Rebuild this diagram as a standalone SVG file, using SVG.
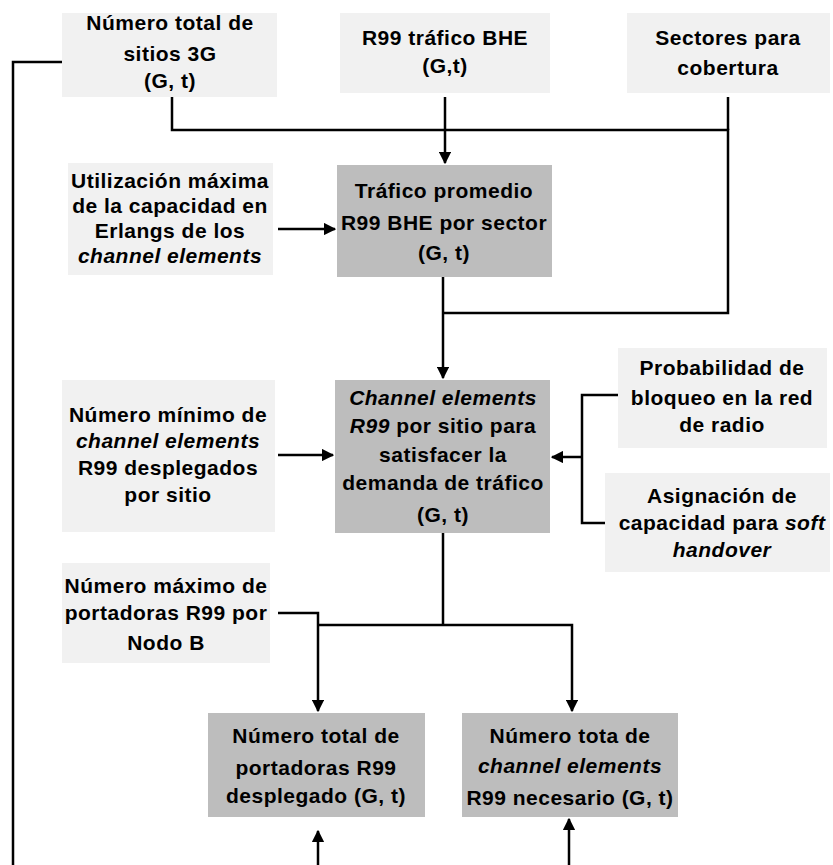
<svg xmlns="http://www.w3.org/2000/svg" width="833" height="865" viewBox="0 0 833 865">
<defs>
<style>
.in{fill:#f1f1f1;stroke:none}
.pr{fill:#bdbdbd;stroke:none}
text{font-family:"Liberation Sans",Arial,sans-serif;font-size:21px;font-weight:bold;letter-spacing:0.5px;fill:#000;text-anchor:middle}
.it{font-style:italic}
.ln{fill:none;stroke:#000;stroke-width:2.5}
</style>
<marker id="ah" viewBox="0 0 10 10" refX="9" refY="5" markerWidth="5" markerHeight="5" orient="auto-start-reverse" markerUnits="strokeWidth">
<path d="M0,0 L10,5 L0,10 z" fill="#000"/>
</marker>
</defs>
<rect width="833" height="865" fill="#fff"/>

<g id="connectors">
<path class="ln" d="M62,62 H13 V865"/>
<path class="ln" d="M172,97 V130 H728 V313 H443"/>
<path class="ln" d="M728,97 V130"/>
<path class="ln" d="M445,97 V163" marker-end="url(#ah)"/>
<path class="ln" d="M278,229 H335" marker-end="url(#ah)"/>
<path class="ln" d="M443,277 V378" marker-end="url(#ah)"/>
<path class="ln" d="M278,455 H333" marker-end="url(#ah)"/>
<path class="ln" d="M618,395 H582 V523 H618"/>
<path class="ln" d="M582,457 H552" marker-end="url(#ah)"/>
<path class="ln" d="M443,533 V625"/>
<path class="ln" d="M278,613 H318 V711" marker-end="url(#ah)"/>
<path class="ln" d="M318,625 H572 V711" marker-end="url(#ah)"/>
<path class="ln" d="M318,865 V831" marker-end="url(#ah)"/>
<path class="ln" d="M569,865 V819" marker-end="url(#ah)"/>
</g>

<g id="n_sitios">
<rect class="in" x="62" y="13" width="215" height="84"/>
<text x="170" y="30">Número total de</text>
<text x="170" y="61">sitios 3G</text>
<text x="170" y="88">(G, t)</text>
</g>

<g id="n_trafico_bhe">
<rect class="in" x="340" y="13" width="210" height="80"/>
<text x="445" y="45">R99 tráfico BHE</text>
<text x="445" y="73">(G,t)</text>
</g>

<g id="n_sectores">
<rect class="in" x="627" y="13" width="203" height="80"/>
<text x="728" y="45">Sectores para</text>
<text x="728" y="75">cobertura</text>
</g>

<g id="n_utilizacion">
<rect class="in" x="68" y="163" width="205" height="112"/>
<text x="170" y="188">Utilización máxima</text>
<text x="170" y="213">de la capacidad en</text>
<text x="170" y="238">Erlangs de los</text>
<text x="170" y="263" class="it">channel elements</text>
</g>

<g id="n_trafico_promedio">
<rect class="pr" x="337" y="165" width="215" height="112"/>
<text x="444" y="198">Tráfico promedio</text>
<text x="444" y="230">R99 BHE por sector</text>
<text x="444" y="260">(G, t)</text>
</g>

<g id="n_minimo">
<rect class="in" x="62" y="380" width="213" height="152"/>
<text x="168" y="422">Número mínimo de</text>
<text x="168" y="448" class="it">channel elements</text>
<text x="168" y="475">R99 desplegados</text>
<text x="168" y="502">por sitio</text>
</g>

<g id="n_channel">
<rect class="pr" x="335" y="380" width="215" height="153"/>
<text x="443" y="405" class="it">Channel elements</text>
<text x="443" y="433"><tspan class="it">R99</tspan> por sitio para</text>
<text x="443" y="462">satisfacer la</text>
<text x="443" y="490">demanda de tráfico</text>
<text x="443" y="522">(G, t)</text>
</g>

<g id="n_probabilidad">
<rect class="in" x="618" y="348" width="209" height="100"/>
<text x="722" y="375">Probabilidad de</text>
<text x="722" y="405">bloqueo en la red</text>
<text x="722" y="432">de radio</text>
</g>

<g id="n_asignacion">
<rect class="in" x="605" y="473" width="225" height="99"/>
<text x="722" y="503">Asignación de</text>
<text x="722" y="530">capacidad para <tspan class="it">soft</tspan></text>
<text x="722" y="557" class="it">handover</text>
</g>

<g id="n_maximo">
<rect class="in" x="62" y="563" width="208" height="100"/>
<text x="166" y="593">Número máximo de</text>
<text x="166" y="620">portadoras R99 por</text>
<text x="166" y="650">Nodo B</text>
</g>

<g id="n_portadoras">
<rect class="pr" x="208" y="713" width="217" height="104"/>
<text x="316" y="743">Número total de</text>
<text x="316" y="775">portadoras R99</text>
<text x="316" y="803">desplegado (G, t)</text>
</g>

<g id="n_ce_total">
<rect class="pr" x="462" y="713" width="216" height="104"/>
<text x="570" y="743">Número tota de</text>
<text x="570" y="773" class="it">channel elements</text>
<text x="570" y="805">R99 necesario (G, t)</text>
</g>
</svg>
